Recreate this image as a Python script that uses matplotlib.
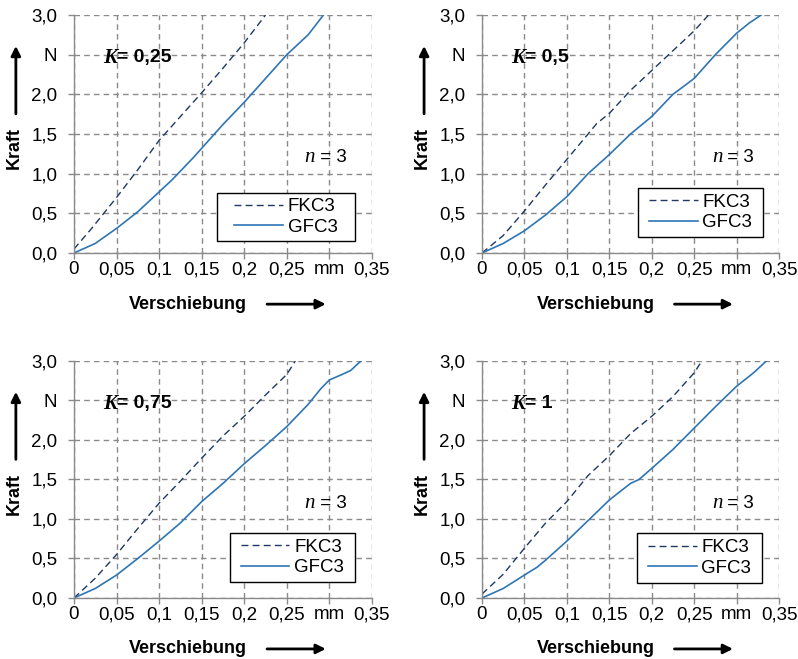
#!/usr/bin/env python3
import matplotlib
matplotlib.use("Agg")
import matplotlib.pyplot as plt
from matplotlib.patches import Rectangle

plt.rcParams["font.family"] = ["Liberation Sans", "DejaVu Sans"]
plt.rcParams["font.size"] = 13.5

DASH_COLOR = "#1f3864"
SOLID_COLOR = "#2e75b6"
GRID_COLOR = "#8a8a8a"

# K values for the four panels
K_LABELS = ["0,25", "0,5", "0,75", "1"]

# FKC3 (dashed) curves: displacement in mm, force in N
FKC3_X = [
    [0, 0.02, 0.05, 0.075, 0.1, 0.125, 0.15, 0.175, 0.2, 0.225],
    [0, 0.025, 0.05, 0.075, 0.1, 0.125, 0.135, 0.15, 0.175, 0.2, 0.225, 0.25, 0.267],
    [0, 0.025, 0.05, 0.075, 0.1, 0.125, 0.15, 0.175, 0.2, 0.225, 0.25, 0.26],
    [0, 0.025, 0.05, 0.075, 0.1, 0.125, 0.15, 0.175, 0.2, 0.225, 0.25, 0.259],
]
FKC3_Y = [
    [0.05, 0.3, 0.7, 1.05, 1.42, 1.72, 2.02, 2.33, 2.65, 3.0],
    [0, 0.22, 0.53, 0.86, 1.18, 1.5, 1.63, 1.76, 2.05, 2.3, 2.55, 2.8, 3.0],
    [0, 0.25, 0.55, 0.88, 1.2, 1.48, 1.77, 2.05, 2.3, 2.57, 2.83, 3.0],
    [0.05, 0.3, 0.63, 0.95, 1.22, 1.55, 1.8, 2.08, 2.3, 2.55, 2.85, 3.0],
]

# GFC3 (solid) curves
GFC3_X = [
    [0, 0.025, 0.05, 0.075, 0.1, 0.115, 0.14, 0.15, 0.175, 0.2, 0.225, 0.25, 0.275, 0.293],
    [0, 0.025, 0.05, 0.075, 0.1, 0.125, 0.15, 0.175, 0.2, 0.225, 0.25, 0.275, 0.3, 0.315, 0.329],
    [0, 0.025, 0.05, 0.075, 0.1, 0.125, 0.15, 0.175, 0.2, 0.225, 0.25, 0.275, 0.29, 0.3, 0.315, 0.325, 0.337],
    [0, 0.025, 0.05, 0.065, 0.075, 0.1, 0.125, 0.15, 0.175, 0.185, 0.2, 0.225, 0.25, 0.275, 0.3, 0.32, 0.335],
]
GFC3_Y = [
    [0, 0.12, 0.31, 0.52, 0.77, 0.92, 1.2, 1.32, 1.62, 1.9, 2.2, 2.5, 2.75, 3.0],
    [0, 0.12, 0.28, 0.48, 0.71, 1.0, 1.24, 1.5, 1.72, 2.0, 2.2, 2.5, 2.77, 2.9, 3.0],
    [0, 0.12, 0.29, 0.5, 0.72, 0.95, 1.22, 1.45, 1.7, 1.93, 2.17, 2.45, 2.65, 2.76, 2.83, 2.88, 3.0],
    [0, 0.12, 0.29, 0.39, 0.48, 0.72, 0.98, 1.24, 1.45, 1.5, 1.64, 1.88, 2.15, 2.42, 2.68, 2.85, 3.0],
]

X_TICKS = [0, 0.05, 0.1, 0.15, 0.2, 0.25, 0.3, 0.35]
X_TICK_LABELS = ["0", "0,05", "0,1", "0,15", "0,2", "0,25", "mm", "0,35"]
Y_TICKS = [0, 0.5, 1.0, 1.5, 2.0, 2.5, 3.0]
Y_TICK_LABELS = ["0,0", "0,5", "1,0", "1,5", "2,0", "N", "3,0"]

# axes rectangles in figure fraction (left, bottom, width, height)
POSITIONS = [
    (0.0927, 0.6161, 0.3734, 0.3611),
    (0.6040, 0.6161, 0.3722, 0.3611),
    (0.0927, 0.0926, 0.3734, 0.3596),
    (0.6040, 0.0926, 0.3722, 0.3596),
]
# legend frames in axes fraction (x0, y0, x1, y1)
LEGEND_BOXES = [
    (0.480, 0.050, 0.943, 0.252),
    (0.525, 0.067, 0.946, 0.273),
    (0.523, 0.068, 0.943, 0.274),
    (0.522, 0.063, 0.943, 0.274),
]


def style_axes(ax):
    ax.set_xlim(0, 0.35)
    ax.set_ylim(0, 3.0)
    ax.set_xticks(X_TICKS)
    ax.set_xticklabels(X_TICK_LABELS)
    ax.set_yticks(Y_TICKS)
    ax.set_yticklabels(Y_TICK_LABELS)
    ax.grid(True, color=GRID_COLOR, linestyle=(0, (4, 3)), linewidth=1.0)
    ax.set_axisbelow(True)
    for side in ("top", "right"):
        ax.spines[side].set_visible(False)
    for side in ("left", "bottom"):
        ax.spines[side].set_color(GRID_COLOR)
        ax.spines[side].set_linewidth(1.0)
    ax.tick_params(axis="both", direction="out", length=4, width=1.0,
                   color=GRID_COLOR, labelsize=13.5)
    ax.tick_params(axis="x", pad=2)
    ax.tick_params(axis="y", pad=8)


def axis_labels(ax):
    ax.text(-0.2, 0.44, "Kraft", transform=ax.transAxes, rotation=90,
            ha="center", va="center", fontsize=13, fontweight="bold")
    ax.annotate("", xy=(-0.195, 0.87), xytext=(-0.195, 0.585),
                xycoords="axes fraction", textcoords="axes fraction",
                arrowprops=dict(arrowstyle="-|>", color="black", lw=2,
                                mutation_scale=14, shrinkA=0, shrinkB=0))
    ax.text(0.383, -0.215, "Verschiebung", transform=ax.transAxes,
            ha="center", va="center", fontsize=13, fontweight="bold")
    ax.annotate("", xy=(0.845, -0.215), xytext=(0.648, -0.215),
                xycoords="axes fraction", textcoords="axes fraction",
                arrowprops=dict(arrowstyle="-|>", color="black", lw=2,
                                mutation_scale=14, shrinkA=0, shrinkB=0))


def annotations(ax, k_label):
    k = ax.text(0.034, 2.46, "K", fontsize=15, fontweight="bold",
                fontstyle="italic", family="Liberation Serif",
                ha="left", va="center")
    ax.annotate("= " + k_label, xy=(1.0, 0.5), xycoords=k,
                ha="left", va="center", fontsize=14, fontweight="bold")
    n = ax.text(0.271, 1.2, "n", fontsize=15, fontstyle="italic",
                family="Liberation Serif", ha="left", va="center")
    ax.annotate(" = 3", xy=(1.0, 0.5), xycoords=n,
                ha="left", va="center", fontsize=13.5)


def legend_box(ax, box):
    x0, y0, x1, y1 = box
    ax.add_patch(Rectangle((x0, y0), x1 - x0, y1 - y0, transform=ax.transAxes,
                           facecolor="white", edgecolor="black",
                           linewidth=1.0, zorder=4))
    ax.legend(loc="center", bbox_to_anchor=((x0 + x1) / 2, (y0 + y1) / 2),
              frameon=False, fontsize=13.5, handlelength=2.6,
              handletextpad=0.25, borderpad=0.0, labelspacing=0.17)


fig = plt.figure(figsize=(7.98, 6.59), dpi=100)

for i in range(4):
    ax = fig.add_axes(POSITIONS[i])
    style_axes(ax)
    ax.plot(FKC3_X[i], FKC3_Y[i], color=DASH_COLOR, linestyle=(0, (5, 3)),
            linewidth=1.0, label="FKC3")
    ax.plot(GFC3_X[i], GFC3_Y[i], color=SOLID_COLOR, linewidth=1.2,
            label="GFC3")
    legend_box(ax, LEGEND_BOXES[i])
    annotations(ax, K_LABELS[i])
    axis_labels(ax)

fig.savefig("out.png", dpi=100)
